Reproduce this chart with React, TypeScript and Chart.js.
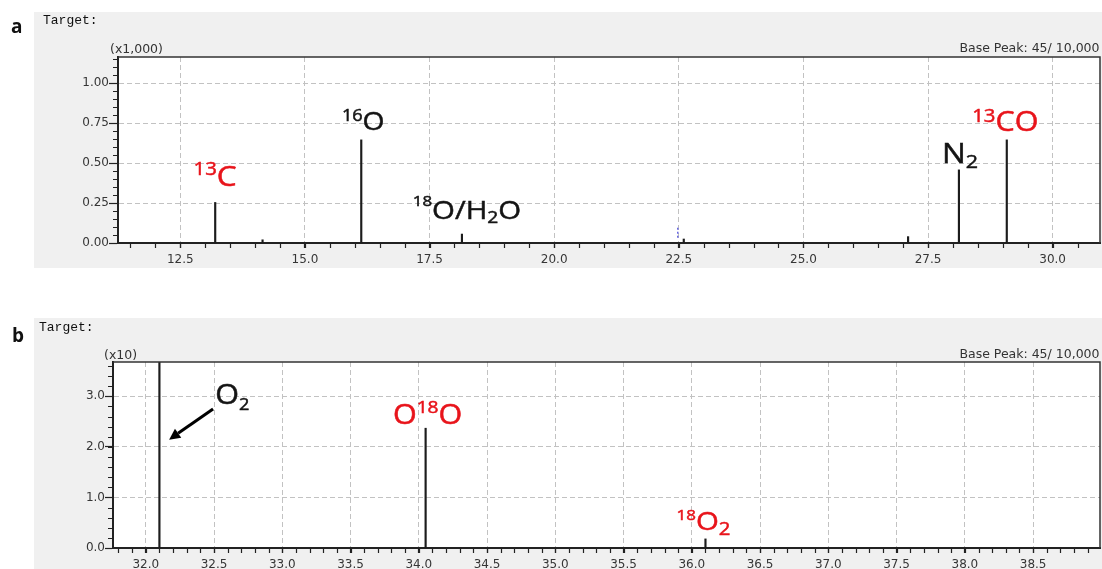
import React, { useEffect, useRef } from 'react';
import { Chart, registerables } from 'chart.js';

Chart.register(...registerables);

// ---------- Panel a: m/z 11–31, intensity in units of 1,000 ----------
const mzA = [13.2, 14.15, 16.13, 18.15, 22.6, 27.1, 28.12, 29.08];
const intensityA = [0.254, 0.02, 0.646, 0.056, 0.025, 0.04, 0.458, 0.646];
const xTicksA = [12.5, 15.0, 17.5, 20.0, 22.5, 25.0, 27.5, 30.0];
const yTicksA = [0, 0.25, 0.5, 0.75, 1.0];
// small dotted cursor mark near m/z 22.5
const cursorMzA = [22.48, 22.48];
const cursorIntA = [0.033, 0.104];

// ---------- Panel b: m/z 32–39, intensity in units of 10 ----------
const mzB = [32.1, 34.05, 36.1];
const intensityB = [9.6, 2.37, 0.18]; // the O2 peak runs off the top of the axis
const xTicksB = [32.0, 32.5, 33.0, 33.5, 34.0, 34.5, 35.0, 35.5, 36.0, 36.5, 37.0, 37.5, 38.0, 38.5];
const yTicksB = [0, 1, 2, 3];

type Part = { text: string; kind?: 'sup' | 'sub' };
type PeakLabel = { peak: number; parts: Part[]; red?: boolean };

const labelsA: PeakLabel[] = [
  { peak: 0, parts: [{ text: '13', kind: 'sup' }, { text: 'C' }], red: true },
  { peak: 2, parts: [{ text: '16', kind: 'sup' }, { text: 'O' }] },
  { peak: 3, parts: [{ text: '18', kind: 'sup' }, { text: 'O/H' }, { text: '2', kind: 'sub' }, { text: 'O' }] },
  { peak: 6, parts: [{ text: 'N' }, { text: '2', kind: 'sub' }] },
  { peak: 7, parts: [{ text: '13', kind: 'sup' }, { text: 'CO' }], red: true },
];

const labelsB: PeakLabel[] = [
  { peak: 0, parts: [{ text: 'O' }, { text: '2', kind: 'sub' }] },
  { peak: 1, parts: [{ text: 'O' }, { text: '18', kind: 'sup' }, { text: 'O' }], red: true },
  { peak: 2, parts: [{ text: '18', kind: 'sup' }, { text: 'O' }, { text: '2', kind: 'sub' }], red: true },
];

// Placement / typography of the peak labels (pixel offsets from the peak tip)
type Place = {
  dx: number; dy: number; size: number;
  sup?: number; rise?: number; sub?: number; drop?: number;
  atX?: number; atY?: number;
};
const placeA: Place[] = [
  { dx: 0, dy: -16, size: 28, sup: 18, rise: 11 },
  { dx: 2, dy: -10, size: 25, sup: 16, rise: 8.5 },
  { dx: 5, dy: -15.5, size: 26, sup: 15, rise: 12.5, sub: 17, drop: 4.5 },
  { dx: 1, dy: -7, size: 28, sub: 19, drop: 5 },
  { dx: -1.5, dy: -9, size: 27, sup: 18, rise: 8.5 },
];
const placeB: Place[] = [
  { atX: 32.634, atY: 2.84, dx: 0, dy: 0, size: 27, sub: 16, drop: 5.5 },
  { dx: 2, dy: -4, size: 27, sup: 17, rise: 11 },
  { dx: -2, dy: -9, size: 26, sup: 15, rise: 10, sub: 18, drop: 5.5 },
];
const arrowB = { fromX: 32.493, fromY: 2.752, toX: 32.171, toY: 2.144 };

const RED = '#e8141b';
const INK = '#141414';
const AXIS_INK = '#222222';
const TICK_TEXT = '#363636';
const LABEL_FONT = '"Open Sans", "Noto Sans", sans-serif';
const TICK_FONT = '"DejaVu Sans", sans-serif';
const STRETCH = 1.13;

function drawRich(ctx: CanvasRenderingContext2D, parts: Part[], cx: number, base: number, st: Place, color: string) {
  const fontFor = (k?: string) => `${k === 'sup' ? st.sup : k === 'sub' ? st.sub : st.size}px ${LABEL_FONT}`;
  let w = 0;
  for (const p of parts) {
    ctx.font = fontFor(p.kind);
    w += ctx.measureText(p.text).width;
  }
  ctx.save();
  ctx.translate(cx, base);
  ctx.scale(STRETCH, 1);
  ctx.fillStyle = color;
  ctx.strokeStyle = color;
  ctx.lineWidth = 0.5;
  ctx.textAlign = 'left';
  ctx.textBaseline = 'alphabetic';
  let x = -w / 2;
  for (const p of parts) {
    ctx.font = fontFor(p.kind);
    const off = p.kind === 'sup' ? -(st.rise || 0) : p.kind === 'sub' ? (st.drop || 0) : 0;
    ctx.fillText(p.text, x, off);
    ctx.strokeText(p.text, x, off);
    x += ctx.measureText(p.text).width;
  }
  ctx.restore();
}

type PanelSpec = {
  mz: number[]; intensity: number[];
  xMin: number; xMax: number; yMax: number;
  xTicks: number[]; yTicks: number[];
  xMinor: number; yMinor: number; yDigits: number;
  yTickLen: number;
  labels: PeakLabel[]; places: Place[];
  letter: string; letterX: number; letterY: number;
  targetX: number; targetY: number;
  scaleNote: string; noteDx: number; noteDy: number; peakDy: number;
  bg: [number, number, number, number];
  yAxisWidth: number; xAxisHeight: number; padTop: number;
  cursor?: { x: number; y: number }[];
  arrow?: typeof arrowB;
};

function makePanel(canvas: HTMLCanvasElement, p: PanelSpec) {
  const decor = {
    id: 'decor',
    beforeDraw(chart: any) {
      const { ctx, chartArea: a } = chart;
      ctx.save();
      ctx.fillStyle = '#f0f0f0';
      ctx.fillRect(p.bg[0], p.bg[1], p.bg[2], p.bg[3]);
      ctx.fillStyle = '#ffffff';
      ctx.fillRect(a.left, a.top, a.right - a.left, a.bottom - a.top);
      ctx.restore();
    },
    afterDatasetsDraw(chart: any) {
      const { ctx, chartArea: a } = chart;
      const xs = chart.scales.x;
      const ys = chart.scales.y;
      ctx.save();

      // frame: top and right edges
      ctx.strokeStyle = '#333333';
      ctx.lineWidth = 1.5;
      ctx.beginPath();
      ctx.moveTo(a.left, a.top);
      ctx.lineTo(a.right, a.top);
      ctx.lineTo(a.right, a.bottom);
      ctx.stroke();

      // minor tick marks
      ctx.strokeStyle = AXIS_INK;
      ctx.lineWidth = 1.2;
      ctx.beginPath();
      for (let k = Math.ceil(p.xMin / p.xMinor - 1e-9); k * p.xMinor <= p.xMax + 1e-9; k++) {
        const px = Math.round(xs.getPixelForValue(k * p.xMinor)) + 0.5;
        ctx.moveTo(px, a.bottom);
        ctx.lineTo(px, a.bottom + 5);
      }
      for (let k = 0; k * p.yMinor <= p.yMax + 1e-9; k++) {
        const py = Math.round(ys.getPixelForValue(k * p.yMinor)) + 0.5;
        ctx.moveTo(a.left - 5, py);
        ctx.lineTo(a.left, py);
      }
      ctx.stroke();

      // header texts
      ctx.fillStyle = '#111111';
      ctx.textBaseline = 'alphabetic';
      ctx.textAlign = 'left';
      ctx.font = `bold 19px ${LABEL_FONT}`;
      ctx.fillText(p.letter, p.letterX, p.letterY);
      ctx.font = '13px "Liberation Mono", "DejaVu Sans Mono", monospace';
      ctx.fillText('Target:', p.targetX, p.targetY);
      ctx.fillStyle = '#333333';
      ctx.font = `12.5px ${TICK_FONT}`;
      ctx.fillText(p.scaleNote, a.left + p.noteDx, a.top + p.noteDy);
      ctx.textAlign = 'right';
      ctx.fillText('Base Peak: 45/ 10,000', a.right - 0.5, a.top + p.peakDy);

      // peak labels
      p.labels.forEach((lab, i) => {
        const pl = p.places[i];
        const vx = pl.atX ?? p.mz[lab.peak];
        const vy = pl.atY ?? p.intensity[lab.peak];
        const cx = xs.getPixelForValue(vx) + pl.dx;
        const by = ys.getPixelForValue(vy) + pl.dy;
        drawRich(ctx, lab.parts, cx, by, pl, lab.red ? RED : INK);
      });

      // pointer arrow
      if (p.arrow) {
        const x1 = xs.getPixelForValue(p.arrow.fromX);
        const y1 = ys.getPixelForValue(p.arrow.fromY);
        const x2 = xs.getPixelForValue(p.arrow.toX);
        const y2 = ys.getPixelForValue(p.arrow.toY);
        const ang = Math.atan2(y2 - y1, x2 - x1);
        const head = 11;
        const half = 5.5;
        const bx = x2 - head * Math.cos(ang);
        const by = y2 - head * Math.sin(ang);
        ctx.strokeStyle = '#000000';
        ctx.lineWidth = 3;
        ctx.beginPath();
        ctx.moveTo(x1, y1);
        ctx.lineTo(bx, by);
        ctx.stroke();
        ctx.fillStyle = '#000000';
        ctx.beginPath();
        ctx.moveTo(x2, y2);
        ctx.lineTo(bx + half * Math.sin(ang), by - half * Math.cos(ang));
        ctx.lineTo(bx - half * Math.sin(ang), by + half * Math.cos(ang));
        ctx.closePath();
        ctx.fill();
      }
      ctx.restore();
    },
  };

  const datasets: any[] = [
    {
      type: 'bar',
      data: p.mz.map((x, i) => ({ x, y: p.intensity[i] })),
      backgroundColor: '#1c1c1c',
      borderWidth: 0,
      barThickness: 1.5,
      clip: 0,
    },
  ];
  if (p.cursor) {
    datasets.push({
      type: 'line',
      data: p.cursor,
      borderColor: '#5050e0',
      borderWidth: 1.3,
      borderDash: [2, 2],
      pointRadius: 0,
    });
  }

  return new Chart(canvas, {
    type: 'bar',
    data: { datasets },
    options: {
      responsive: false,
      animation: false,
      events: [],
      layout: { padding: { top: p.padTop, right: 2, left: 0, bottom: 0 } },
      plugins: { legend: { display: false }, tooltip: { enabled: false } },
      scales: {
        x: {
          type: 'linear',
          offset: false,
          min: p.xMin,
          max: p.xMax,
          afterBuildTicks: (s: any) => { s.ticks = p.xTicks.map((value) => ({ value })); },
          afterFit: (s: any) => { s.height = p.xAxisHeight; },
          ticks: {
            autoSkip: false,
            maxRotation: 0,
            padding: 5,
            color: TICK_TEXT,
            font: { family: TICK_FONT, size: 12 },
            callback: (v: any) => Number(v).toFixed(1),
          },
          grid: { offset: false, color: '#c2c2c2', lineWidth: 1, tickLength: 5, tickColor: AXIS_INK, tickWidth: 1.2 },
          border: { display: true, color: AXIS_INK, width: 2, dash: [5, 3] },
        },
        y: {
          type: 'linear',
          min: 0,
          max: p.yMax,
          afterBuildTicks: (s: any) => { s.ticks = p.yTicks.map((value) => ({ value })); },
          afterFit: (s: any) => { s.width = p.yAxisWidth; },
          ticks: {
            padding: 0,
            color: TICK_TEXT,
            font: { family: TICK_FONT, size: 12 },
            callback: (v: any) => Number(v).toFixed(p.yDigits),
          },
          grid: { color: '#c2c2c2', lineWidth: 1, tickLength: p.yTickLen, tickColor: AXIS_INK, tickWidth: 1.2 },
          border: { display: true, color: AXIS_INK, width: 2, dash: [5, 3] },
        },
      },
    } as any,
    plugins: [decor],
  });
}

const panelA: PanelSpec = {
  mz: mzA, intensity: intensityA,
  xMin: 11.25, xMax: 30.95, yMax: 1.165,
  xTicks: xTicksA, yTicks: yTicksA,
  xMinor: 0.5, yMinor: 0.05, yDigits: 2, yTickLen: 9,
  labels: labelsA, places: placeA,
  letter: 'a', letterX: 11, letterY: 33,
  targetX: 43, targetY: 24,
  scaleNote: '(x1,000)', noteDx: -8, noteDy: -4, peakDy: -5,
  bg: [34, 12, 1068, 256],
  yAxisWidth: 118, xAxisHeight: 25, padTop: 57,
  cursor: cursorMzA.map((x, i) => ({ x, y: cursorIntA[i] })),
};

const panelB: PanelSpec = {
  mz: mzB, intensity: intensityB,
  xMin: 31.76, xMax: 38.99, yMax: 3.68,
  xTicks: xTicksB, yTicks: yTicksB,
  xMinor: 0.1, yMinor: 0.2, yDigits: 1, yTickLen: 8,
  labels: labelsB, places: placeB,
  letter: 'b', letterX: 12, letterY: 23.5,
  targetX: 39, targetY: 12.5,
  scaleNote: '(x10)', noteDx: -9, noteDy: -3, peakDy: -4.5,
  bg: [34, 0, 1068, 251],
  yAxisWidth: 113, xAxisHeight: 21, padTop: 44,
  arrow: arrowB,
};

export default function App() {
  const refA = useRef<HTMLCanvasElement>(null);
  const refB = useRef<HTMLCanvasElement>(null);

  useEffect(() => {
    const a = makePanel(refA.current as HTMLCanvasElement, panelA);
    const b = makePanel(refB.current as HTMLCanvasElement, panelB);
    return () => {
      a.destroy();
      b.destroy();
    };
  }, []);

  return (
    <div style={{ position: 'absolute', left: 0, top: 0, width: 1102, height: 569, background: '#ffffff', overflow: 'hidden' }}>
      <canvas ref={refA} width={1102} height={268} style={{ position: 'absolute', left: 0, top: 0 }} />
      <canvas ref={refB} width={1102} height={251} style={{ position: 'absolute', left: 0, top: 318 }} />
    </div>
  );
}
